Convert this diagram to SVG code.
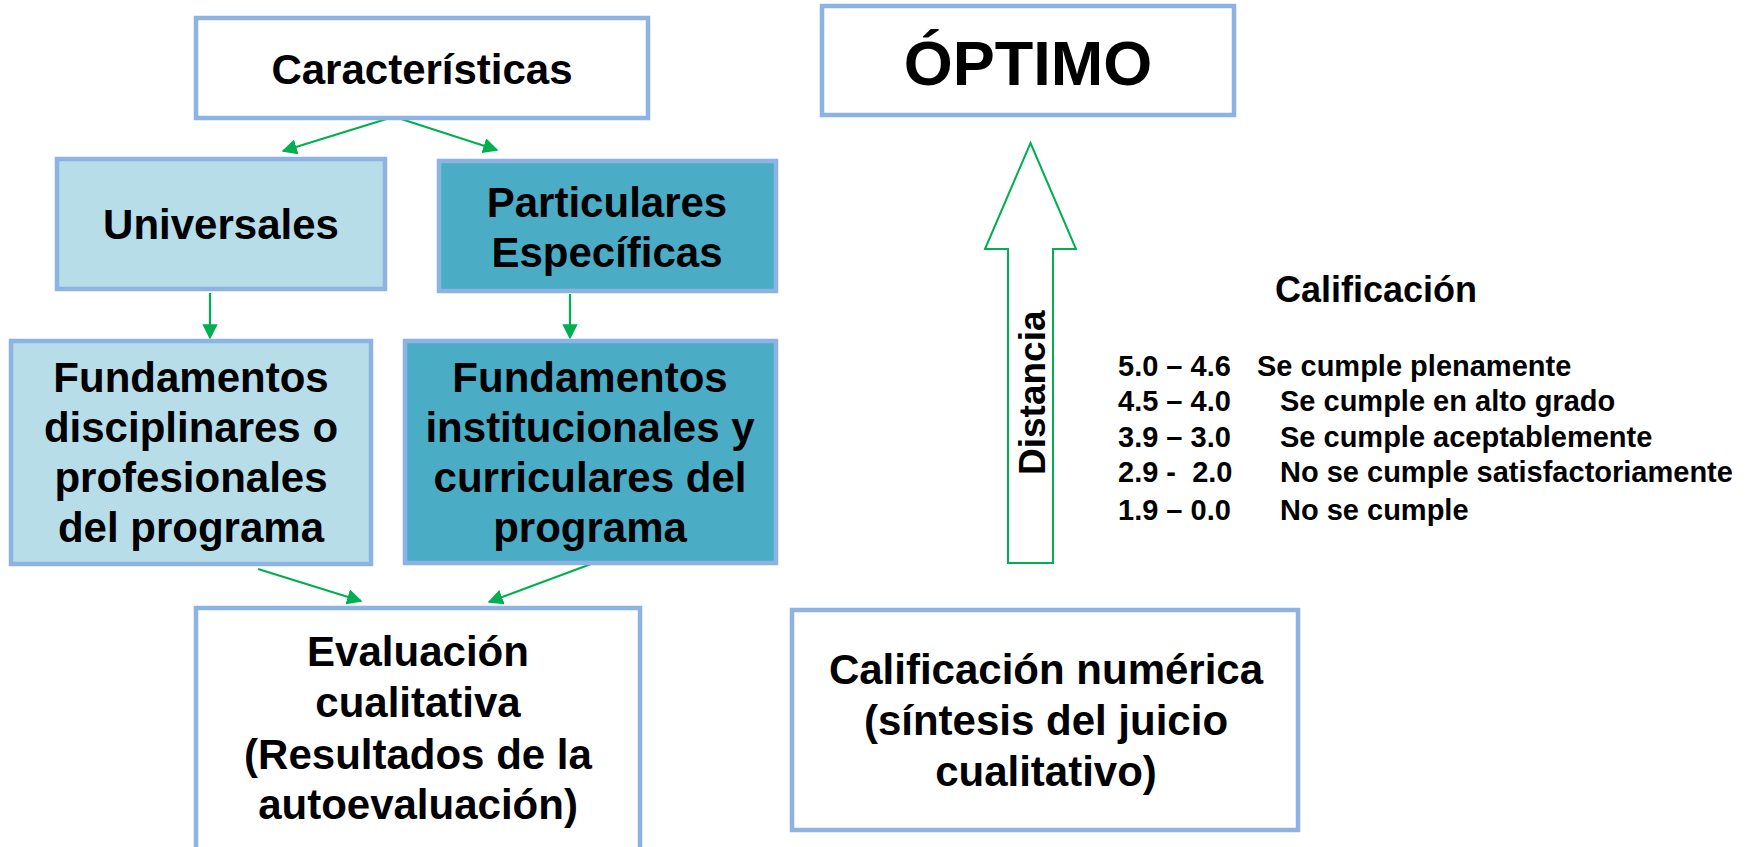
<svg xmlns="http://www.w3.org/2000/svg" width="1754" height="847" viewBox="0 0 1754 847">
<style>
.box{stroke:#8DB3E2;stroke-width:4.5}
.w{fill:#FFFFFF}
.lb{fill:#B7DDE8}
.db{fill:#4BACC6}
text{font-family:"Liberation Sans",Arial,sans-serif;font-weight:bold;fill:#000000}
.t42{font-size:42px;text-anchor:middle}
.conn{stroke:#00B050;stroke-width:2.2;fill:none}
.leg{font-size:29px}
</style>
<defs>
<marker id="ah" viewBox="0 0 10 10" refX="9" refY="5" markerWidth="7" markerHeight="7" markerUnits="strokeWidth" orient="auto">
<path d="M0,0 L10,5 L0,10 z" fill="#00B050"/>
</marker>
</defs>
<rect width="1754" height="847" fill="#FFFFFF"/>
<g id="connectors">
<line class="conn" x1="393" y1="117" x2="283" y2="151" marker-end="url(#ah)"/>
<line class="conn" x1="395" y1="117" x2="497" y2="150" marker-end="url(#ah)"/>
<line class="conn" x1="210" y1="293" x2="210" y2="338" marker-end="url(#ah)"/>
<line class="conn" x1="570" y1="294" x2="570" y2="338" marker-end="url(#ah)"/>
<line class="conn" x1="258" y1="569" x2="361" y2="601" marker-end="url(#ah)"/>
<line class="conn" x1="591" y1="564" x2="489" y2="602" marker-end="url(#ah)"/>
</g>
<g id="caracteristicas">
<rect class="box w" x="196" y="18" width="452" height="100"/>
<text class="t42" x="422" y="84">Características</text>
</g>
<g id="universales">
<rect class="box lb" x="57" y="159" width="328" height="130"/>
<text class="t42" x="221" y="239">Universales</text>
</g>
<g id="particulares">
<rect class="box db" x="439" y="161" width="337" height="130"/>
<text class="t42" x="607" y="217">Particulares</text>
<text class="t42" x="607" y="267">Específicas</text>
</g>
<g id="fund-disciplinares">
<rect class="box lb" x="11" y="341" width="360" height="223"/>
<text class="t42" x="191" y="392">Fundamentos</text>
<text class="t42" x="191" y="442">disciplinares o</text>
<text class="t42" x="191" y="492">profesionales</text>
<text class="t42" x="191" y="542">del programa</text>
</g>
<g id="fund-institucionales">
<rect class="box db" x="405" y="341" width="371" height="222"/>
<text class="t42" x="590" y="392">Fundamentos</text>
<text class="t42" x="590" y="442">institucionales y</text>
<text class="t42" x="590" y="492">curriculares del</text>
<text class="t42" x="590" y="542">programa</text>
</g>
<g id="evaluacion">
<rect class="box w" x="196" y="608" width="444" height="270"/>
<text class="t42" x="418" y="666">Evaluación</text>
<text class="t42" x="418" y="717">cualitativa</text>
<text class="t42" x="418" y="769">(Resultados de la</text>
<text class="t42" x="418" y="819">autoevaluación)</text>
</g>
<g id="optimo">
<rect class="box w" x="822" y="6" width="412" height="109"/>
<text x="1028" y="85" style="font-size:63px;text-anchor:middle">ÓPTIMO</text>
</g>
<g id="distancia">
<polygon points="1030.5,143 1076,249 1053,249 1053,563 1008,563 1008,249 985,249" fill="#FFFFFF" stroke="#00B050" stroke-width="2"/>
<text x="0" y="0" transform="translate(1045,475) rotate(-90)" style="font-size:37px">Distancia</text>
</g>
<g id="calificacion-numerica">
<rect class="box w" x="792" y="610" width="506" height="220"/>
<text class="t42" x="1046" y="684">Calificación numérica</text>
<text class="t42" x="1046" y="735">(síntesis del juicio</text>
<text class="t42" x="1046" y="786">cualitativo)</text>
</g>
<g id="leyenda">
<text x="1275" y="302" style="font-size:36px">Calificación</text>
<text class="leg" x="1118" y="376">5.0 – 4.6</text>
<text class="leg" x="1257" y="376">Se cumple plenamente</text>
<text class="leg" x="1118" y="411">4.5 – 4.0</text>
<text class="leg" x="1280" y="411">Se cumple en alto grado</text>
<text class="leg" x="1118" y="447">3.9 – 3.0</text>
<text class="leg" x="1280" y="447">Se cumple aceptablemente</text>
<text class="leg" x="1118" y="482" xml:space="preserve">2.9 -  2.0</text>
<text class="leg" x="1280" y="482">No se cumple satisfactoriamente</text>
<text class="leg" x="1118" y="520">1.9 – 0.0</text>
<text class="leg" x="1280" y="520">No se cumple</text>
</g>
</svg>
